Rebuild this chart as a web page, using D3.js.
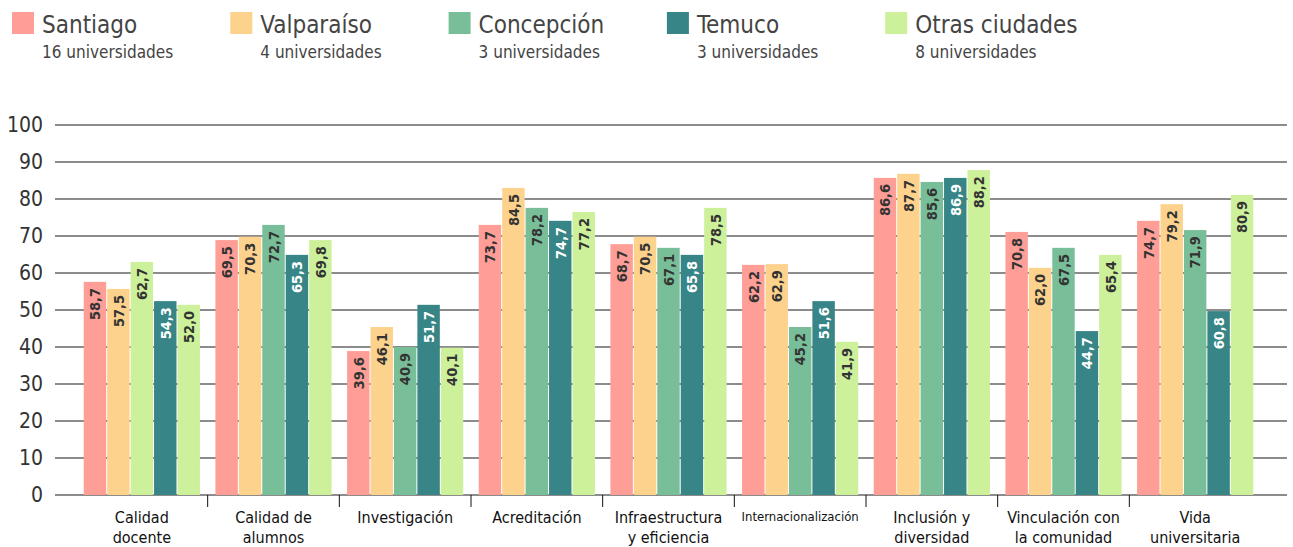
<!DOCTYPE html>
<html><head><meta charset="utf-8">
<script src="https://cdn.jsdelivr.net/npm/d3@7"></script>
<style>
html,body{margin:0;padding:0;background:#fff;}
svg{display:block;font-family:"DejaVu Sans Condensed","DejaVu Sans",sans-serif;}
</style></head>
<body><svg id="c" width="1293" height="547"></svg>
<script>
const categories = ["Calidad docente","Calidad de alumnos","Investigación","Acreditación","Infraestructura y eficiencia","Internacionalización","Inclusión y diversidad","Vinculación con la comunidad","Vida universitaria"];
const categoryLines = [["Calidad","docente"],["Calidad de","alumnos"],["Investigación"],["Acreditación"],["Infraestructura","y eficiencia"],["Internacionalización"],["Inclusión y","diversidad"],["Vinculación con","la comunidad"],["Vida","universitaria"]];
const seriesNames = ["Santiago","Valparaíso","Concepción","Temuco","Otras ciudades"];
const seriesSub = ["16 universidades","4 universidades","3 universidades","3 universidades","8 universidades"];
const seriesColors = ["#fe9e97","#fdd28c","#78be98","#378587","#cdf09b"];
const labelColors = ["#333","#333","#333","#fff","#333"];
// bar heights as drawn
const santiago   = [57.6, 68.9, 38.9, 73.0, 67.8, 62.2, 85.7, 71.1, 74.1];
const valparaiso = [55.7, 69.8, 45.4, 83.0, 69.8, 62.4, 86.8, 61.4, 78.6];
const concepcion = [63.0, 73.0, 40.0, 77.6, 66.8, 45.4, 84.6, 66.8, 71.6];
const temuco     = [52.4, 64.9, 51.4, 74.1, 64.9, 52.4, 85.7, 44.3, 49.7];
const otras      = [51.4, 68.9, 39.8, 76.5, 77.6, 41.4, 87.8, 64.9, 81.1];
// printed value labels
const santiagoLbl   = ["58,7","69,5","39,6","73,7","68,7","62,2","86,6","70,8","74,7"];
const valparaisoLbl = ["57,5","70,3","46,1","84,5","70,5","62,9","87,7","62,0","79,2"];
const concepcionLbl = ["62,7","72,7","40,9","78,2","67,1","45,2","85,6","67,5","71,9"];
const temucoLbl     = ["54,3","65,3","51,7","74,7","65,8","51,6","86,9","44,7","60,8"];
const otrasLbl      = ["52,0","69,8","40,1","77,2","78,5","41,9","88,2","65,4","80,9"];
const yTicks = [0,10,20,30,40,50,60,70,80,90,100];
// the first Concepción bar is printed in the "Otras" colour in the original
const colorOverrides = [{cat:0, series:2, colorOf:4}];

const values = [santiago, valparaiso, concepcion, temuco, otras];
const labels = [santiagoLbl, valparaisoLbl, concepcionLbl, temucoLbl, otrasLbl];

const svg = d3.select("#c");
const y = d3.scaleLinear().domain([0,100]).range([495,125]);
const x0 = d3.scaleBand().domain(categories).range([76,1261]).paddingInner(0.11).paddingOuter(0.055);
const x1 = d3.scaleBand().domain(d3.range(5)).range([0,x0.bandwidth()]);

// grid
svg.append("g").selectAll("line").data(yTicks).join("line")
  .attr("x1",55).attr("x2",1287).attr("y1",d=>y(d)).attr("y2",d=>y(d))
  .attr("stroke","#666").attr("stroke-width",1.6);
svg.append("g").selectAll("text").data(yTicks).join("text")
  .attr("x",43).attr("y",d=>y(d)).attr("dy","0.35em").attr("text-anchor","end")
  .attr("font-size",21).attr("fill","#333").text(d=>d);

// separators
const seps = categories.slice(1).map(c=>x0(c) - x0.step()*x0.paddingInner()/2);
svg.append("g").selectAll("line").data(seps).join("line")
  .attr("x1",d=>d).attr("x2",d=>d).attr("y1",495).attr("y2",507)
  .attr("stroke","#111").attr("stroke-width",1);

// bars
const cells = [];
categories.forEach((c,ci)=>values.forEach((arr,si)=>{
  let col = seriesColors[si];
  colorOverrides.forEach(o=>{ if(o.cat===ci && o.series===si) col = seriesColors[o.colorOf]; });
  cells.push({c, ci, si, v:arr[ci], lbl:labels[si][ci], col});
}));
const g = svg.append("g");
g.selectAll("rect").data(cells).join("rect")
  .attr("x",d=>x0(d.c)+x1(d.si)+0.5).attr("width",x1.bandwidth()-1)
  .attr("y",d=>y(d.v)).attr("height",d=>y(0)-y(d.v)).attr("fill",d=>d.col);
g.selectAll("text").data(cells).join("text")
  .attr("transform",d=>`translate(${x0(d.c)+x1(d.si)+x1.bandwidth()/2},${y(d.v)+6}) rotate(-90)`)
  .attr("text-anchor","end").attr("dy","0.36em")
  .attr("font-size",14.5).attr("font-weight","bold").attr("fill",d=>labelColors[d.si])
  .text(d=>d.lbl);

// category labels
categories.forEach((c,ci)=>{
  const lines = categoryLines[ci];
  const small = lines.length===1 && c.length>15;
  const t = svg.append("text").attr("x",x0(c)+x0.bandwidth()/2).attr("text-anchor","middle")
    .attr("fill","#111").attr("font-size", small?13:16);
  lines.forEach((l,li)=>t.append("tspan").attr("x",x0(c)+x0.bandwidth()/2)
    .attr("y", small? 521 : 523+li*20).text(l));
});

// legend
const lg = svg.append("g").selectAll("g").data(seriesNames).join("g")
  .attr("transform",(d,i)=>`translate(${12+i*218.3},0)`);
lg.append("rect").attr("x",0).attr("y",12).attr("width",22).attr("height",22).attr("fill",(d,i)=>seriesColors[i]);
lg.append("text").attr("x",30).attr("y",33).attr("font-size",24).attr("fill","#444").text(d=>d);
lg.append("text").attr("x",30).attr("y",58).attr("font-size",17).attr("fill","#444").text((d,i)=>seriesSub[i]);
</script></body></html>
